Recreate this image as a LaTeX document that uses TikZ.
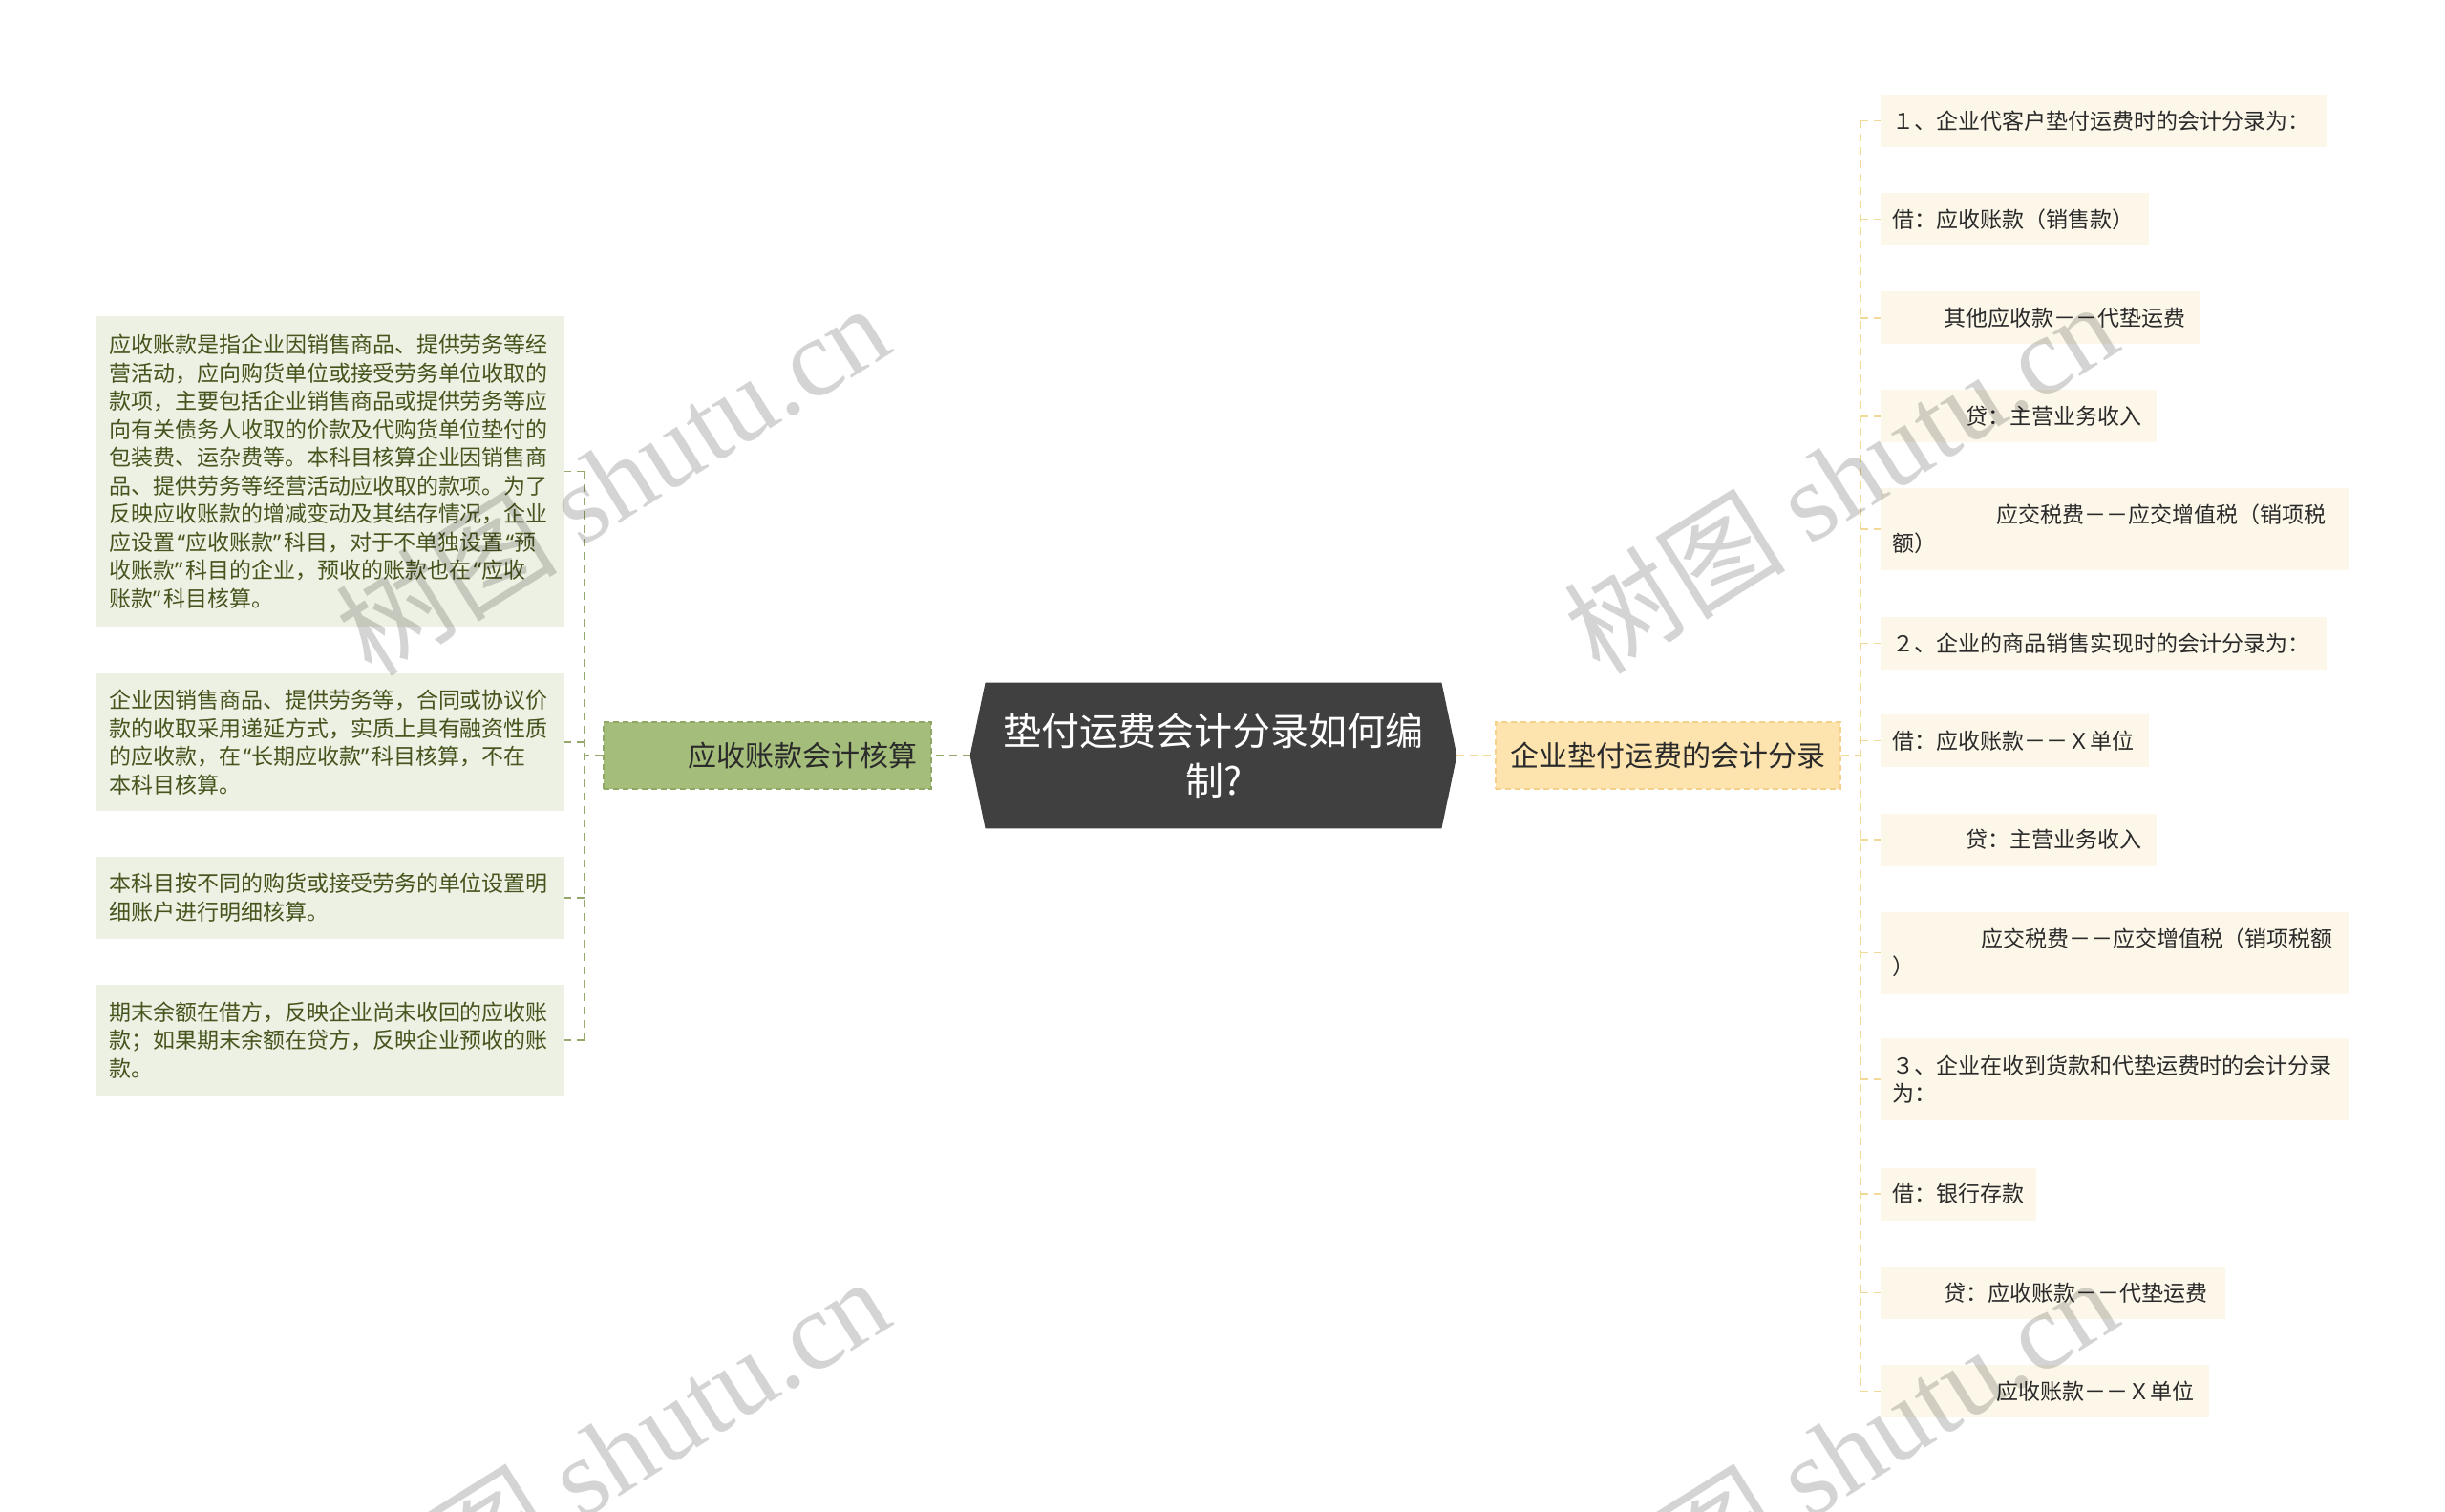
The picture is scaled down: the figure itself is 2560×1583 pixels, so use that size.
\documentclass[tikz,border=0pt]{standalone}
\usepackage{fontspec}
\setmainfont{Noto Sans CJK SC}
\newfontfamily\wmserif{Liberation Serif}
\newfontfamily\qfont{Noto Sans}
\newcommand\oq{\hspace{0.12em}{\qfont “}}
\newcommand\cq{{\qfont ”}\hspace{0.12em}}
\usetikzlibrary{backgrounds}
\definecolor{rootfill}{HTML}{404040}
\definecolor{lbfill}{HTML}{A4BD7B}
\definecolor{lbdraw}{HTML}{8FA866}
\definecolor{lleaffill}{HTML}{EDF1E4}
\definecolor{lleaftext}{HTML}{46541D}
\definecolor{lconncol}{HTML}{94A96B}
\definecolor{rbfill}{HTML}{FDE4AF}
\definecolor{rbdraw}{HTML}{F4D08A}
\definecolor{rleaffill}{HTML}{FCF7E9}
\definecolor{rconncol}{HTML}{F2D996}
\definecolor{darktext}{HTML}{2A2A2A}
\begin{document}
\begin{tikzpicture}[x=0.5pt,y=-0.5pt,
  lleaf/.style={fill=lleaffill, text=lleaftext, inner xsep=7pt, inner ysep=0pt,
    text width=231.5pt, minimum width=245.5pt, align=left,
    font=\fontsize{11.5pt}{14.75pt}\selectfont},
  rleaf/.style={fill=rleaffill, text=darktext, anchor=west, inner xsep=6pt, inner ysep=0pt,
    align=left, minimum height=27.5pt, font=\fontsize{11.5pt}{14.75pt}\selectfont},
  branchbox/.style={dashed, dash pattern=on 3pt off 2pt, line width=0.6pt, inner ysep=0pt,
    minimum height=35pt, font=\fontsize{15pt}{18pt}\selectfont, text=darktext},
  lconn/.style={draw=lconncol, line width=0.9pt, dash pattern=on 4pt off 3pt},
  rconn/.style={draw=rconncol, line width=0.9pt, dash pattern=on 4pt off 3pt},
  wm/.style={rotate=32, text=black, text opacity=0.17, inner sep=0pt}
]
\begin{scope}[on background layer]
\fill[white] (0,0) rectangle (2560,1583);
\end{scope}
\useasboundingbox (0,0) rectangle (2560,1583);

% root
\node (root) [minimum width=254.5pt, minimum height=76pt, inner sep=0pt, text=white,
  align=center, text width=240pt, font=\fontsize{20pt}{26pt}\selectfont]
  at (1270.5,791) {垫付运费会计分录如何编\\制?};
\begin{scope}[on background layer]
\fill[rootfill] (root.west) -- ([xshift=8pt]root.north west) -- ([xshift=-8pt]root.north east)
  -- (root.east) -- ([xshift=-8pt]root.south east) -- ([xshift=8pt]root.south west) -- cycle;
\end{scope}

% branches
\node (LB) [branchbox, fill=lbfill, draw=lbdraw, minimum width=171.5pt, text width=156.5pt,
  inner xsep=7.5pt, align=right] at (803.5,791) {应收账款会计核算};
\node (RB) [branchbox, fill=rbfill, draw=rbdraw, minimum width=180.5pt, align=center]
  at (1746.5,791) {企业垫付运费的会计分录};

% left leaves
\node (L1) [lleaf, minimum height=162.5pt] at (345.5,493.5) {应收账款是指企业因销售商品、提供劳务等经\\营活动，应向购货单位或接受劳务单位收取的\\款项，主要包括企业销售商品或提供劳务等应\\向有关债务人收取的价款及代购货单位垫付的\\包装费、运杂费等。本科目核算企业因销售商\\品、提供劳务等经营活动应收取的款项。为了\\反映应收账款的增减变动及其结存情况，企业\\应设置\oq 应收账款\cq 科目，对于不单独设置\oq 预\\收账款\cq 科目的企业，预收的账款也在\oq 应收\\账款\cq 科目核算。};
\node (L2) [lleaf, minimum height=72pt] at (345.5,777) {企业因销售商品、提供劳务等，合同或协议价\\款的收取采用递延方式，实质上具有融资性质\\的应收款，在\oq 长期应收款\cq 科目核算，不在\\本科目核算。};
\node (L3) [lleaf, minimum height=43pt] at (345.5,940) {本科目按不同的购货或接受劳务的单位设置明\\细账户进行明细核算。};
\node (L4) [lleaf, minimum height=58pt] at (345.5,1089) {期末余额在借方，反映企业尚未收回的应收账\\款；如果期末余额在贷方，反映企业预收的账\\款。};

% right leaves
\node (R1) [rleaf, text width=221.5pt] at (1969,126.5) {１、企业代客户垫付运费时的会计分录为：};
\node (R2) [rleaf, text width=128.5pt] at (1969,229.5) {借：应收账款（销售款）};
\node (R3) [rleaf, text width=155.5pt] at (1969,333) {\hspace*{27pt}其他应收款－－代垫运费};
\node (R4) [rleaf, text width=132.5pt] at (1969,436) {\hspace*{38.5pt}贷：主营业务收入};
\node (R5) [rleaf, text width=233.5pt, minimum height=43pt] at (1969,554) {\hspace*{54.5pt}应交税费－－应交增值税（销项税\\额）};
\node (R6) [rleaf, text width=221.5pt] at (1969,673.5) {２、企业的商品销售实现时的会计分录为：};
\node (R7) [rleaf, text width=128.5pt] at (1969,775.5) {借：应收账款－－Ｘ单位};
\node (R8) [rleaf, text width=132.5pt] at (1969,879) {\hspace*{38.5pt}贷：主营业务收入};
\node (R9) [rleaf, text width=233.5pt, minimum height=43pt] at (1969,997.5) {\hspace*{46.5pt}应交税费－－应交增值税（销项税额\\）};
\node (R10) [rleaf, text width=233.5pt, minimum height=43pt] at (1969,1130) {３、企业在收到货款和代垫运费时的会计分录\\为：};
\node (R11) [rleaf, text width=69.5pt] at (1969,1250) {借：银行存款};
\node (R12) [rleaf, text width=168.5pt] at (1969,1353.5) {\hspace*{27pt}贷：应收账款－－代垫运费};
\node (R13) [rleaf, text width=160pt] at (1969,1456.5) {\hspace*{54.5pt}应收账款－－Ｘ单位};

% connectors
\coordinate (sL) at (612,791);
\coordinate (sR) at (1948,791);
\draw[lconn, line width=1.4pt] (root.west) -- (LB.east);
\draw[lconn] (LB.west) -- (sL);
\draw[lconn] (sL |- L1.east) -- (sL |- L4.east);
\foreach \n in {L1,L2,L3,L4} \draw[lconn] (sL |- \n.east) -- (\n.east);
\draw[rconn, line width=1.4pt] (root.east) -- (RB.west);
\draw[rconn] (RB.east) -- (sR);
\draw[rconn] (sR |- R1.west) -- (sR |- R13.west);
\foreach \n in {R1,R2,R3,R4,R5,R6,R7,R8,R9,R10,R11,R12,R13} \draw[rconn] (sR |- \n.west) -- (\n.west);

% watermarks
\foreach \i/\px/\py in {1/641/501, 2/1927/499, 3/641/1520, 4/1927/1520}
  \node (wm\i) [wm] at (\px,\py) {\fontsize{58pt}{58pt}\selectfont 树图 {\wmserif shutu.cn}};
\end{tikzpicture}
\end{document}
